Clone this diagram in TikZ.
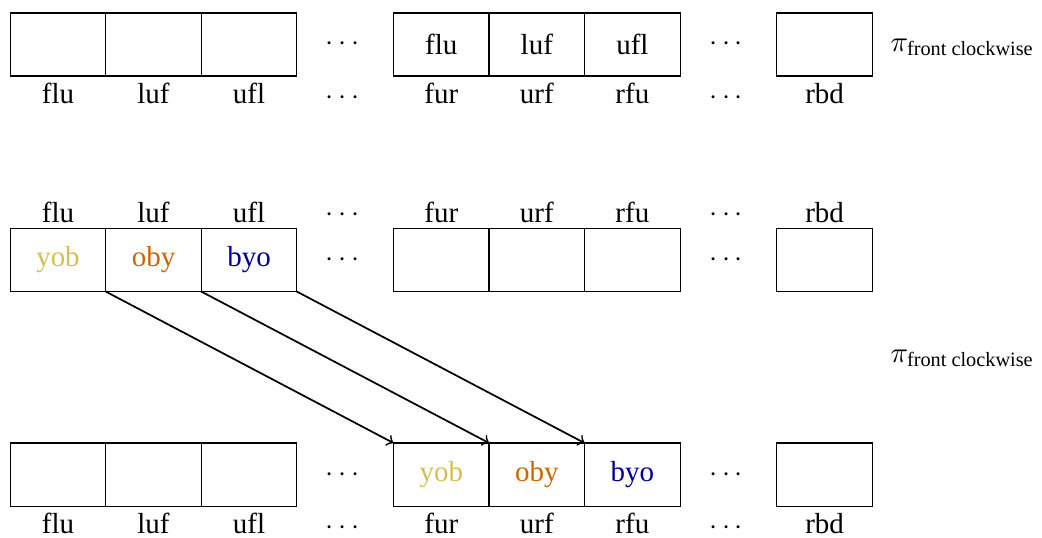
\documentclass[tikz,border=0pt]{standalone}
\usepackage{amsmath}
\usepackage{fontspec}
\setmainfont{Liberation Serif}
\usetikzlibrary{positioning}

\definecolor{stickyellow}{RGB}{212,192,82}
\definecolor{stickorange}{RGB}{204,102,0}
\definecolor{stickblue}{RGB}{0,0,150}

\begin{document}
\begin{tikzpicture}[
		cell/.style={draw,minimum width=1.158cm,minimum height=0.764cm,inner sep=0pt,outer sep=0pt},
		gap/.style={minimum width=1.158cm,minimum height=0.764cm,inner sep=0pt},
		slot/.style={inner sep=2pt,text height=1.6ex,text depth=0pt},
	]
		\useasboundingbox (0,0) rectangle (12.63,-6.51);
		% top row
		\node[cell] (a0) at (0.703,-0.539) {};
		\node[cell,right=0pt of a0] (a1) {};
		\node[cell,right=0pt of a1] (a2) {};
		\node[gap,right=0pt of a2] (a3) {$\cdots$};
		\node[cell,right=0pt of a3] (a4) {flu};
		\node[cell,right=0pt of a4] (a5) {luf};
		\node[cell,right=0pt of a5] (a6) {ufl};
		\node[gap,right=0pt of a6] (a7) {$\cdots$};
		\node[cell,right=0pt of a7] (a8) {};
		\node[slot,below=0pt of a0] (la0) {flu};
		\node[slot,below=0pt of a1] (la1) {luf};
		\node[slot,below=0pt of a2] (la2) {ufl};
		\node[slot,below=0pt of a3] (la3) {$\cdots$};
		\node[slot,below=0pt of a4] (la4) {fur};
		\node[slot,below=0pt of a5] (la5) {urf};
		\node[slot,below=0pt of a6] (la6) {rfu};
		\node[slot,below=0pt of a7] (la7) {$\cdots$};
		\node[slot,below=0pt of a8] (la8) {rbd};
		\node[anchor=west] (pa) at (10.67,-0.57) {$\pi_{\text{front clockwise}}$};
		%
		% middle row
		\node[cell] (b0) at (0.703,-3.152) {\color{stickyellow}yob};
		\node[cell,right=0pt of b0] (b1) {\color{stickorange}oby};
		\node[cell,right=0pt of b1] (b2) {\color{stickblue}byo};
		\node[gap,right=0pt of b2] (b3) {$\cdots$};
		\node[cell,right=0pt of b3] (b4) {};
		\node[cell,right=0pt of b4] (b5) {};
		\node[cell,right=0pt of b5] (b6) {};
		\node[gap,right=0pt of b6] (b7) {$\cdots$};
		\node[cell,right=0pt of b7] (b8) {};
		\node[slot,above=0pt of b0] (lb0) {flu};
		\node[slot,above=0pt of b1] (lb1) {luf};
		\node[slot,above=0pt of b2] (lb2) {ufl};
		\node[slot,above=0pt of b3] (lb3) {$\cdots$};
		\node[slot,above=0pt of b4] (lb4) {fur};
		\node[slot,above=0pt of b5] (lb5) {urf};
		\node[slot,above=0pt of b6] (lb6) {rfu};
		\node[slot,above=0pt of b7] (lb7) {$\cdots$};
		\node[slot,above=0pt of b8] (lb8) {rbd};
		\node[anchor=west] (pb) at (10.67,-4.34) {$\pi_{\text{front clockwise}}$};
		%
		% bottom row
		\node[cell] (c0) at (0.703,-5.752) {};
		\node[cell,right=0pt of c0] (c1) {};
		\node[cell,right=0pt of c1] (c2) {};
		\node[gap,right=0pt of c2] (c3) {$\cdots$};
		\node[cell,right=0pt of c3] (c4) {\color{stickyellow}yob};
		\node[cell,right=0pt of c4] (c5) {\color{stickorange}oby};
		\node[cell,right=0pt of c5] (c6) {\color{stickblue}byo};
		\node[gap,right=0pt of c6] (c7) {$\cdots$};
		\node[cell,right=0pt of c7] (c8) {};
		\node[slot,below=0pt of c0] (lc0) {flu};
		\node[slot,below=0pt of c1] (lc1) {luf};
		\node[slot,below=0pt of c2] (lc2) {ufl};
		\node[slot,below=0pt of c3] (lc3) {$\cdots$};
		\node[slot,below=0pt of c4] (lc4) {fur};
		\node[slot,below=0pt of c5] (lc5) {urf};
		\node[slot,below=0pt of c6] (lc6) {rfu};
		\node[slot,below=0pt of c7] (lc7) {$\cdots$};
		\node[slot,below=0pt of c8] (lc8) {rbd};
		%
		\draw[black,line width=0.6pt,->] (b0.south east) -- (c4.north west);
		\draw[black,line width=0.6pt,->] (b1.south east) -- (c5.north west);
		\draw[black,line width=0.6pt,->] (b2.south east) -- (c6.north west);
\end{tikzpicture}
\end{document}
